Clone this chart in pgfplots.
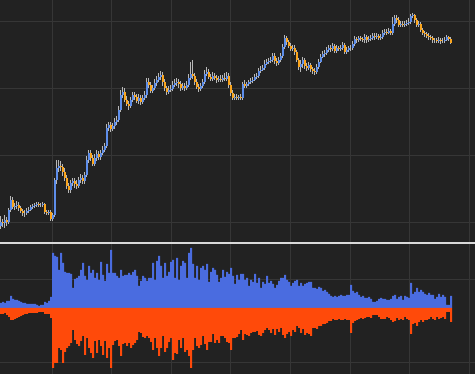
\documentclass[border=0pt]{standalone}
\usepackage{pgfplots}
\usepackage{pgfplotstable}
\pgfplotsset{compat=1.18}
\definecolor{bgc}{HTML}{222222}
\definecolor{gridc}{HTML}{363636}
\definecolor{upc}{HTML}{5E8EEA}
\definecolor{dnc}{HTML}{FBA51C}
\definecolor{wickc}{HTML}{B8B8B8}
\definecolor{vblue}{HTML}{4A6CE0}
\definecolor{vred}{HTML}{FF4A0A}
\pgfplotstableread{
x o h l c b r
1 226 216 229 222 5 6
3 222 219 227 223 6 6
5 223 215 228 220 5 5
7 220 217 226 222 7 7
9 222 208 224 210 7 9
11 210 196 212 200 12 12
13 200 197 209 207 9 12
15 207 203 210 206 8 11
17 206 201 209 205 8 10
19 205 202 211 208 7 9
21 208 206 213 211 6 8
23 211 209 216 213 5 7
25 213 210 217 213 5 6
27 213 208 215 211 4 6
29 211 207 213 210 4 5
31 210 205 211 207 4 5
33 207 204 209 206 4 5
35 206 203 208 205 4 5
37 205 202 207 204 3 5
39 204 202 207 205 2 4
41 205 203 207 205 3 4
43 205 202 207 204 3 4
45 204 203 214 212 6 6
47 212 210 215 213 5 6
49 213 210 215 212 7 6
51 212 210 221 219 11 10
53 219 213 221 215 55 60
55 215 178 217 180 52 55
57 180 160 184 168 51 55
59 168 160 172 166 38 40
61 166 161 171 167 55 42
63 167 164 176 172 45 55
65 172 168 181 178 36 44
67 178 175 189 186 35 40
69 186 183 193 190 35 38
71 190 180 193 183 34 35
73 183 178 186 181 20 22
75 181 178 188 184 29 32
77 184 180 189 186 30 36
79 186 177 188 180 32 38
81 180 174 183 178 38 33
83 178 175 184 181 45 28
85 181 172 184 175 32 47
87 175 156 177 160 28 30
89 160 150 163 153 42 40
91 153 150 161 158 35 45
93 158 155 166 164 38 50
95 164 154 166 158 30 33
97 158 150 161 154 35 45
99 154 151 160 157 28 32
101 157 150 160 153 46 38
103 153 146 155 150 33 47
105 150 143 152 146 27 33
107 146 124 148 128 44 50
109 128 122 131 125 35 40
111 125 122 132 129 58 60
113 129 123 131 126 35 37
115 126 118 129 122 35 33
117 122 116 125 120 32 32
119 120 106 122 110 30 38
121 110 90 112 95 38 48
123 95 87 98 92 32 36
125 92 88 102 100 33 35
127 100 96 106 104 33 38
129 104 101 110 106 35 35
131 106 97 108 100 33 40
133 100 92 102 95 36 37
135 95 92 100 97 38 35
137 97 94 103 101 32 32
139 101 94 104 98 22 24
141 98 95 105 102 27 25
143 102 95 104 98 32 29
145 98 91 100 95 30 30
147 95 78 98 82 27 28
149 82 78 88 85 30 30
151 85 82 93 91 30 34
153 91 85 93 88 45 42
155 88 79 90 83 28 30
157 83 76 86 80 47 40
159 80 73 82 77 52 48
161 77 71 80 75 42 40
163 75 72 86 82 30 28
165 82 79 91 88 45 44
167 88 86 95 92 32 40
169 92 86 94 90 36 34
171 90 85 92 89 46 30
173 89 81 91 85 48 52
175 85 79 87 83 30 45
177 83 78 86 82 50 46
179 82 79 88 84 28 32
181 84 81 91 88 42 40
183 88 83 90 86 47 30
185 86 83 91 88 45 44
187 88 81 90 85 30 42
189 85 74 87 78 55 48
191 78 62 80 74 60 60
193 74 60 79 76 44 42
195 76 73 85 82 30 30
197 82 79 89 87 42 38
199 87 84 92 89 28 40
201 89 83 91 86 40 37
203 86 79 88 82 42 28
205 82 70 84 74 38 36
207 74 67 76 72 44 42
209 72 69 79 77 26 34
211 77 74 81 79 36 34
213 79 72 81 76 40 26
215 76 73 80 78 38 35
217 78 75 83 80 33 32
219 80 76 82 79 26 35
221 79 75 82 80 30 28
223 80 75 82 78 38 28
225 78 73 81 79 31 30
227 79 72 81 76 36 34
229 76 73 88 85 34 35
231 85 82 96 93 40 42
233 93 90 100 98 32 30
235 98 94 100 97 24 30
237 97 94 100 98 33 29
239 98 95 100 97 28 26
241 97 94 100 98 34 22
243 98 82 100 84 34 32
245 84 80 88 86 28 26
247 86 82 88 84 30 27
249 84 80 86 82 22 28
251 82 78 84 81 28 25
253 81 77 83 80 26 24
255 80 74 81 77 34 24
257 77 73 79 76 25 23
259 76 68 78 71 30 27
261 71 66 73 70 20 28
263 70 65 71 68 26 25
265 68 60 70 64 24 22
267 64 59 65 62 32 20
269 62 58 64 61 25 22
271 61 57 63 60 27 25
273 60 53 62 56 24 21
275 56 53 64 61 20 27
277 61 58 66 63 23 21
279 63 57 65 60 27 24
281 60 53 62 56 30 20
283 56 44 58 47 30 27
285 47 35 49 38 33 30
287 38 36 45 42 28 26
289 42 40 48 46 26 24
291 46 43 51 49 22 28
293 49 45 51 48 25 22
295 48 45 55 52 27 24
297 52 50 62 60 28 18
299 60 58 70 67 22 20
301 67 60 72 64 25 25
303 64 57 68 60 22 21
305 60 58 69 66 24 27
307 66 63 71 68 25 25
309 68 62 70 65 26 26
311 65 63 72 69 26 28
313 69 67 74 71 20 20
315 71 68 75 72 20 20
317 72 64 74 67 19 21
319 67 59 69 62 21 18
321 62 54 63 57 20 18
323 57 51 58 54 17 16
325 54 50 57 53 18 16
327 53 47 55 50 16 15
329 50 45 52 48 14 13
331 48 45 52 49 12 13
333 49 43 51 46 11 11
335 46 44 53 51 12 12
337 51 45 53 48 11 12
339 48 46 51 49 12 11
341 49 45 51 48 13 12
343 48 42 50 45 12 12
345 45 43 54 52 12 11
347 52 47 54 50 13 12
349 50 46 52 48 13 12
351 48 45 51 48 23 25
353 48 41 50 44 17 15
355 44 36 46 39 15 13
357 39 37 43 40 16 12
359 40 36 42 38 13 11
361 38 36 41 39 11 10
363 39 37 42 40 12 11
365 40 34 43 37 10 10
367 37 35 43 40 10 9
369 40 36 42 39 11 9
371 39 35 41 38 9 10
373 38 33 40 36 6 7
375 36 33 40 37 6 7
377 37 33 39 36 7 7
379 36 34 40 38 9 9
381 38 34 40 37 10 11
383 37 30 39 33 9 11
385 33 29 35 32 9 11
387 32 29 35 33 8 9
389 33 28 34 31 8 10
391 31 29 35 33 9 12
393 33 17 35 24 12 14
395 24 15 26 18 13 13
397 18 15 23 20 9 10
399 20 17 27 25 11 12
401 25 21 27 24 12 11
403 24 21 27 25 8 12
405 25 21 27 24 12 9
407 24 20 26 23 11 11
409 23 18 25 22 10 12
411 22 14 24 16 25 26
413 16 13 18 15 14 16
415 15 14 23 20 16 15
417 20 18 27 25 20 18
419 25 21 27 24 16 14
421 24 22 32 30 18 12
423 30 28 35 33 16 14
425 33 31 37 34 14 12
427 34 32 38 36 13 12
429 36 33 40 37 15 11
431 37 35 40 38 13 9
433 38 36 43 40 13 11
435 40 38 43 40 9 12
437 40 38 43 41 11 9
439 41 37 43 40 14 11
441 40 38 44 41 11 10
443 41 38 43 41 13 9
445 41 37 43 40 11 11
447 40 35 41 37 3 4
449 37 36 41 39 3 4
451 39 37 44 43 12 14
}\candles
\pgfplotsset{
  darkpanel/.style={
    scale only axis, width=475pt,
    xmin=0, xmax=475,
    axis background/.style={fill=bgc},
    axis line style={draw=none},
    xtick={52,111.6,171.2,230.8,290.4,350,409.6,469.2},
    xticklabels={}, yticklabels={},
    major tick length=0pt,
    grid=major, grid style={gridc, line width=1pt},
    clip=true,
  }
}
\begin{document}
\begin{tikzpicture}
\fill[bgc] (0,0) rectangle (475pt,374pt);
% price panel
\begin{axis}[darkpanel, at={(0pt,132pt)}, anchor=south west, height=242pt,
  ymin=0, ymax=242, y dir=reverse, ytick={22,89,156,223}]
\addplot[draw=none, mark=none, forget plot,
  error bars/.cd, y dir=both, y explicit, error mark=none,
  error bar style={wickc, line width=0.9pt}]
  table[x expr={\thisrow{x}-0.5}, y expr={(\thisrow{h}+\thisrow{l})/2}, y error expr={(\thisrow{l}-\thisrow{h})/2}] {\candles};
\addplot[draw=none, mark=none, forget plot,
  error bars/.cd, y dir=both, y explicit, error mark=none,
  error bar style={upc, line width=2pt}]
  table[x expr={\thisrow{x}+0.3}, y expr={(\thisrow{o}+\thisrow{c})/2}, y error expr={max(\thisrow{o}-\thisrow{c},0)/2}] {\candles};
\addplot[draw=none, mark=none, forget plot,
  error bars/.cd, y dir=both, y explicit, error mark=none,
  error bar style={dnc, line width=2pt}]
  table[x expr={\thisrow{x}+0.3}, y expr={(\thisrow{o}+\thisrow{c})/2}, y error expr={max(\thisrow{c}-\thisrow{o},0)/2}] {\candles};
\end{axis}
% volume panel
\begin{axis}[darkpanel, at={(0pt,0pt)}, anchor=south west, height=131pt,
  ymin=-66, ymax=65, ytick={-55,28}]
\addplot[ybar, bar width=2, bar shift=0pt, fill=vblue, draw=none, forget plot]
  table[x=x, y=b] {\candles};
\addplot[ybar, bar width=2, bar shift=0pt, fill=vred, draw=none, forget plot]
  table[x=x, y expr={-\thisrow{r}}] {\candles};
\draw[white!85!black, line width=1.4pt] (rel axis cs:0,1) -- (rel axis cs:1,1);
\end{axis}
\pgfresetboundingbox
\useasboundingbox (0,0) rectangle (475pt,374pt);
\end{tikzpicture}
\end{document}
